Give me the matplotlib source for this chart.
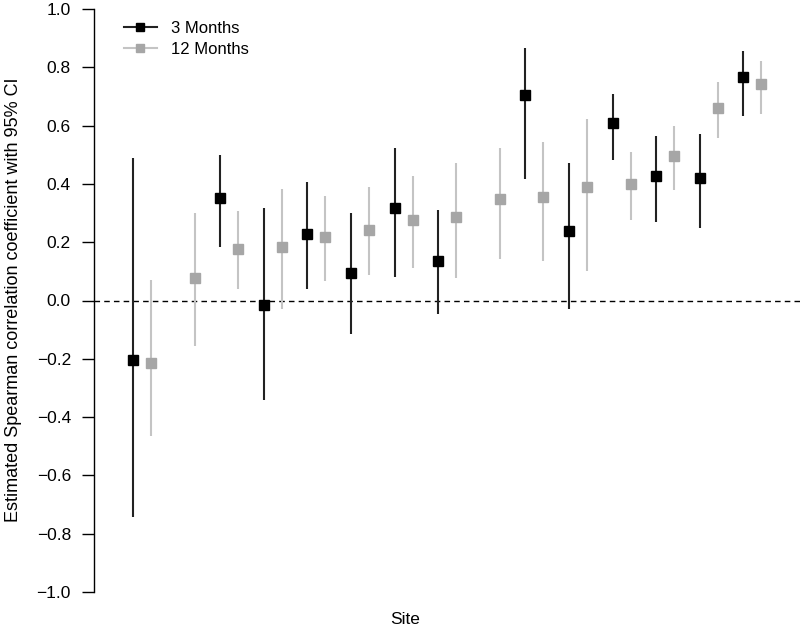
import numpy as np
import matplotlib
matplotlib.use("Agg")
import matplotlib.pyplot as plt
from matplotlib.lines import Line2D

plt.rcParams['font.family'] = ['Liberation Sans', 'DejaVu Sans']

# sites ordered by the 12-month estimate
sites = np.arange(1, 16)

# 3 months (two sites have no estimate)
est3 = [-0.205, np.nan, 0.352, -0.015, 0.228, 0.096, 0.317, 0.134, np.nan, 0.704, 0.237, 0.610, 0.428, 0.419, 0.767]
lo3 = [-0.743, np.nan, 0.185, -0.342, 0.038, -0.114, 0.082, -0.046, np.nan, 0.417, -0.028, 0.483, 0.270, 0.248, 0.634]
hi3 = [0.490, np.nan, 0.500, 0.317, 0.405, 0.300, 0.523, 0.310, np.nan, 0.865, 0.471, 0.710, 0.563, 0.571, 0.856]

# 12 months
est12 = [-0.215, 0.076, 0.177, 0.185, 0.217, 0.243, 0.277, 0.285, 0.348, 0.356, 0.391, 0.400, 0.497, 0.662, 0.744]
lo12 = [-0.466, -0.156, 0.039, -0.028, 0.068, 0.086, 0.112, 0.076, 0.143, 0.135, 0.100, 0.277, 0.380, 0.557, 0.641]
hi12 = [0.071, 0.300, 0.308, 0.382, 0.357, 0.390, 0.428, 0.470, 0.523, 0.545, 0.622, 0.511, 0.600, 0.751, 0.820]

yticks = [-1.0, -0.8, -0.6, -0.4, -0.2, 0.0, 0.2, 0.4, 0.6, 0.8, 1.0]

black = '#000000'
black_line = '#222222'
grey = '#a6a6a6'
grey_line = '#c4c4c4'

fig = plt.figure(figsize=(8, 6.3), dpi=100)
ax = fig.add_axes([94 / 800, 38 / 630, 706 / 800, 583 / 630])

off = 0.206
x3 = sites - off
x12 = sites + off

ax.axhline(0, color='black', linestyle=(0, (4, 3)), linewidth=1, zorder=1)

ax.vlines(x3, lo3, hi3, color=black_line, linewidth=1.5, zorder=2)
ax.plot(x3, est3, linestyle='none', marker='s', markersize=7.5, color=black, zorder=3)
ax.vlines(x12, lo12, hi12, color=grey_line, linewidth=1.5, zorder=2)
ax.plot(x12, est12, linestyle='none', marker='s', markersize=7.5, color=grey, zorder=3)

ax.set_xlim(-0.10, 16.09)
ax.set_ylim(-1.0, 1.0)
ax.set_xticks([])
ax.set_yticks(yticks)
ax.set_yticklabels([f'{v:.1f}'.replace('-', '\u2212') for v in yticks])
ax.tick_params(axis='y', length=8.6, width=1, pad=8, labelsize=12.5)
for s in ['top', 'right', 'bottom']:
    ax.spines[s].set_visible(False)
ax.spines['left'].set_bounds(-1.0, 1.0)
ax.spines['left'].set_linewidth(1)

fig.text(14 / 800, 1 - 300 / 630, 'Estimated Spearman correlation coefficient with 95% CI',
         rotation=90, ha='center', va='center', fontsize=13)
fig.text(405 / 800, 1 - 620 / 630, 'Site', ha='center', va='center', fontsize=12.5)

handles = [
    Line2D([], [], color=black_line, linewidth=1.5, marker='s', markersize=5.5, markerfacecolor=black, markeredgecolor=black),
    Line2D([], [], color=grey_line, linewidth=1.5, marker='s', markersize=5.5, markerfacecolor=grey, markeredgecolor=grey),
]
ax.legend(handles, ['3 Months', '12 Months'], loc='upper left', frameon=False,
          bbox_to_anchor=(23 / 706, 0.991), fontsize=12, handlelength=2.0,
          handletextpad=0.85, labelspacing=0.35, borderaxespad=0)

fig.savefig('out.png', dpi=100)
